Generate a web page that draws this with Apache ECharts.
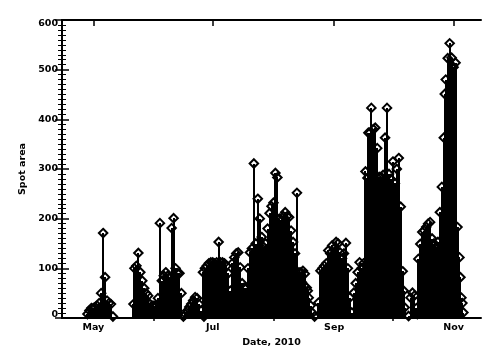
<!DOCTYPE html>
<html><head><meta charset="utf-8">
<script src="https://cdn.jsdelivr.net/npm/echarts@6/dist/echarts.min.js"></script>
<style>html,body{margin:0;padding:0;background:#fff}#c{width:500px;height:357px}</style>
</head><body><div id="c"></div>
<script>
// x values are days since 2010-04-15
const monthTickDays = [16, 77, 139, 200];
const monthTickLabels = ['May', 'Jul', 'Sep', 'Nov'];
const minorMonthDays = [47, 108, 169];

const days = [
  13,14,15,16,17,18,19,20,21,22,23,24,25,26,
  36.5,37,38,39,40,41,42,43,44,45,46,47,48,49,50,51,52,53,54,55,56,57,58,59,60,61,62,
  63,64,65,66,67,68,69,70,71,72.5,
  72,73,74,75,76,77,78,79,80,81,82,83,84,85,86,87,88,89,90,91,92,93,94,95,96,97,98,99,100,
  101,102,103,104,105,106,107,108,109,110,111,112,113,114,115,116,117,118,119,120,
  121,122,123,124,125,126,127,128,129,122.5,125.5,
  131,132,133,134,135,136,137,138,139,140,141,142,143,144,145,146,147,148,
  149,150,151,152,153,154,155,156,157,158,159,160,161,162,163,164,165,166,167,168,169,170,171,172,173,174,175,156.5,174.5,
  177,178,179,180,181,182,183,184,185,186,187,188,189,190,191,192,193,194,195,196,197,198,199,200,201,202,203,204,205,
  195.5,203.5,204.5,181.5
];
const area = [
  8,15,20,20,22,25,30,50,171,82,35,30,28,3,
  28,100,105,131,92,75,60,50,45,28,25,25,25,40,191,75,85,92,85,80,181,201,100,90,90,50,3,
  8,15,22,28,35,42,40,28,15,3,
  92,100,105,110,112,112,110,112,153,112,112,110,105,90,55,110,122,130,132,102,70,61,60,100,132,140,311,150,240,
  200,163,143,150,180,211,225,232,292,283,200,197,205,213,205,203,176,153,130,252,
  92,92,95,89,61,41,25,10,3,72,55,
  31,95,100,105,110,136,130,146,140,153,150,132,120,130,151,100,41,11,
  51,70,92,112,100,110,295,282,372,423,380,383,342,284,284,288,363,423,290,280,315,271,300,322,224,94,21,373,55,
  4,41,51,45,20,119,149,173,176,183,190,193,160,150,143,153,213,264,363,480,523,553,524,505,514,183,122,41,11,
  451,82,30,8
];

const points = days.map((d, i) => [d, area[i]]);
const FONT = 'DejaVu Sans';
const txt = { fontFamily: FONT, fontSize: 9.5, fontWeight: 'bold', color: '#000' };

const chart = echarts.init(document.getElementById('c'), null, { renderer: 'canvas' });
const baseX = {
  type: 'value', min: 0, max: 214,
  splitLine: { show: false },
  axisLine: { show: true, onZero: false, lineStyle: { color: '#000', width: 2 } }
};
chart.setOption({
  animation: false,
  backgroundColor: '#fff',
  grid: { left: 62, right: 19, top: 20, bottom: 39 },
  xAxis: [
    Object.assign({}, baseX, {
      position: 'bottom',
      name: 'Date, 2010', nameLocation: 'middle', nameGap: 18,
      nameTextStyle: txt,
      axisTick: { show: true, inside: true, length: 6, customValues: monthTickDays, lineStyle: { color: '#000', width: 1.5 } },
      axisLabel: Object.assign({ show: true, margin: 5, customValues: monthTickDays,
        formatter: v => monthTickLabels[monthTickDays.indexOf(v)] || '' }, txt)
    }),
    Object.assign({}, baseX, {
      position: 'top',
      axisTick: { show: true, inside: true, length: 6, customValues: monthTickDays, lineStyle: { color: '#000', width: 1.5 } },
      axisLabel: { show: false }
    }),
    Object.assign({}, baseX, {
      position: 'bottom',
      axisLine: { show: false },
      axisTick: { show: true, inside: true, length: 3, customValues: minorMonthDays, lineStyle: { color: '#000', width: 1.5 } },
      axisLabel: { show: false }
    }),
    Object.assign({}, baseX, {
      position: 'top',
      axisLine: { show: false },
      axisTick: { show: true, inside: true, length: 3, customValues: minorMonthDays, lineStyle: { color: '#000', width: 1.5 } },
      axisLabel: { show: false }
    })
  ],
  yAxis: [
    {
      type: 'value', min: 0, max: 600, interval: 100, position: 'left',
      name: 'Spot area', nameLocation: 'middle', nameGap: 28, nameRotate: 90,
      nameTextStyle: txt,
      splitLine: { show: false },
      axisLine: { show: true, lineStyle: { color: '#000', width: 2 } },
      axisTick: { show: true, inside: true, length: 7, lineStyle: { color: '#000', width: 1.5 } },
      minorTick: { show: true, splitNumber: 10, length: 4, lineStyle: { color: '#000', width: 1 } },
      axisLabel: Object.assign({ margin: 4,
        formatter: v => v === 600 ? '{t|600}' : (v === 0 ? '{b|0}' : String(v)),
        rich: {
          t: Object.assign({ padding: [7, 0, 0, 0] }, txt),
          b: Object.assign({ padding: [0, 0, 7, 0] }, txt)
        } }, txt)
    },
    {
      type: 'value', min: 0, max: 600, interval: 100, position: 'right',
      splitLine: { show: false },
      axisLine: { show: true, lineStyle: { color: '#000', width: 2 } },
      axisTick: { show: true, inside: true, length: 7, lineStyle: { color: '#000', width: 1.5 } },
      minorTick: { show: true, splitNumber: 10, length: 4, lineStyle: { color: '#000', width: 1 } },
      axisLabel: { show: false }
    }
  ],
  series: [
    {
      type: 'custom', xAxisIndex: 0, yAxisIndex: 0,
      data: points, encode: { x: 0, y: 1 },
      renderItem: (params, api) => {
        const x = api.value(0), y = api.value(1);
        const p0 = api.coord([x, 0]);
        const p1 = api.coord([x, y]);
        const left = Math.round(p1[0]) - 1;
        const top = Math.round(p1[1]);
        return { type: 'rect', shape: { x: left, y: top, width: 2, height: Math.round(p0[1]) - top },
                 style: { fill: '#000' } };
      }
    },
    {
      type: 'scatter', xAxisIndex: 0, yAxisIndex: 0,
      data: points, symbol: 'diamond', symbolSize: 8.5,
      itemStyle: { color: 'rgba(255,255,255,0)', borderColor: '#000', borderWidth: 2, opacity: 1 },
      emphasis: { disabled: true }
    }
  ]
});
</script>
</body></html>
